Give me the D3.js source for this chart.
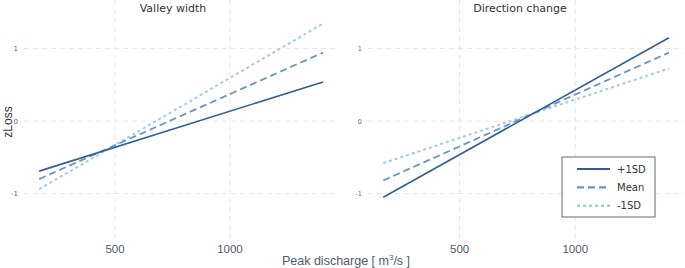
<!DOCTYPE html>
<html>
<head>
<meta charset="utf-8">
<script src="https://cdn.jsdelivr.net/npm/d3@7"></script>
<style>
	body { margin: 0; background: #fff; }
	svg { display: block; font-family: "DejaVu Sans", sans-serif; }
	.sans { font-family: "Liberation Sans", Arial, sans-serif; }
</style>
</head>
<body>
<div id="chart"></div>
<script>
// peak discharge at the two ends of each fitted line
var discharge = [170, 1405];
var panels = ["Valley width", "Direction change"];
var series = ["+1SD", "Mean", "-1SD"];
// zLoss at start / end for each series, per panel
var valleyWidth = [[-0.69, 0.54], [-0.80, 0.945], [-0.94, 1.345]];
var directionChange = [[-1.05, 1.15], [-0.82, 0.945], [-0.58, 0.725]];
var xTicks = [500, 1000];
var yTicks = [-1, 0, 1];

var W = 685, H = 268,
	panelData = [valleyWidth, directionChange],
	panelX = [[24, 338], [368, 684]],
	styles = [
		{ color: "#2e6096", width: 1.6, dash: null },
		{ color: "#6b94c4", width: 1.8, dash: "7,4" },
		{ color: "#9dcbef", width: 2, dash: "3,3" }
	],
	gridColor = "#e6e6e6",
	axisColor = "#4d5a70";

var svg = d3.select("#chart").append("svg")
	.attr("width", W)
	.attr("height", H);

var y = d3.scaleLinear().domain([1.67, -1.64]).range([0, 240]);

panels.forEach(function (name, p) {
	var x = d3.scaleLinear().domain([104, 1470]).range(panelX[p]);
	var g = svg.append("g");

	// grid
	g.selectAll("line.hg")
		.data(yTicks)
		.join("line")
		.attr("class", "hg")
		.attr("x1", x.range()[0]).attr("x2", x.range()[1])
		.attr("y1", function (d) { return y(d); })
		.attr("y2", function (d) { return y(d); })
		.attr("stroke", gridColor)
		.attr("stroke-dasharray", "5,4");

	g.selectAll("line.vg")
		.data(xTicks)
		.join("line")
		.attr("class", "vg")
		.attr("x1", function (d) { return x(d); })
		.attr("x2", function (d) { return x(d); })
		.attr("y1", 0).attr("y2", 243)
		.attr("stroke", gridColor)
		.attr("stroke-dasharray", "5,4");

	// y tick labels
	g.selectAll("text.yt")
		.data(yTicks)
		.join("text")
		.attr("class", "yt")
		.attr("x", x.range()[0] - 6)
		.attr("y", function (d) { return y(d) + 2.5; })
		.attr("text-anchor", "end")
		.attr("font-size", p == 0 ? 7 : 6.5)
		.attr("fill", "#666")
		.text(function (d) { return d; });

	// x tick labels
	g.selectAll("text.xt")
		.data(xTicks)
		.join("text")
		.attr("class", "xt sans")
		.attr("x", function (d) { return x(d); })
		.attr("y", 253)
		.attr("text-anchor", "middle")
		.attr("font-size", 11.5)
		.attr("fill", axisColor)
		.text(function (d) { return d; });

	// title
	g.append("text")
		.attr("x", (x.range()[0] + x.range()[1]) / 2 + (p == 0 ? -8 : -6))
		.attr("y", 12)
		.attr("text-anchor", "middle")
		.attr("font-size", 11)
		.attr("fill", "#333")
		.text(name);

	var line = d3.line()
		.x(function (d, i) { return x(discharge[i]); })
		.y(function (d) { return y(d); });

	// draw lightest first so the solid line sits on top
	[2, 1, 0].forEach(function (s) {
		g.append("path")
			.datum(panelData[p][s])
			.attr("d", line)
			.attr("fill", "none")
			.attr("stroke", styles[s].color)
			.attr("stroke-width", styles[s].width)
			.attr("stroke-dasharray", styles[s].dash);
	});
});

// axis titles
svg.append("text")
	.attr("class", "sans")
	.attr("transform", "translate(12,122) rotate(-90)")
	.attr("text-anchor", "middle")
	.attr("font-size", 12)
	.attr("fill", "#333")
	.text("zLoss");

var xt = svg.append("text")
	.attr("class", "sans")
	.attr("x", 346)
	.attr("y", 265)
	.attr("text-anchor", "middle")
	.attr("font-size", 12.5)
	.attr("fill", axisColor);
xt.append("tspan").text("Peak discharge [ m");
xt.append("tspan").attr("font-size", 8).attr("dy", -5).text("3");
xt.append("tspan").attr("dy", 5).text("/s ]");

// legend
var lg = svg.append("g").attr("transform", "translate(562,157)");
lg.append("rect")
	.attr("width", 93).attr("height", 60)
	.attr("fill", "#fff")
	.attr("stroke", "#666")
	.attr("stroke-width", 1);

var item = lg.selectAll("g.item")
	.data(series)
	.join("g")
	.attr("class", "item")
	.attr("transform", function (d, i) { return "translate(0," + (12 + i * 18.4) + ")"; });

item.append("line")
	.attr("x1", 15).attr("x2", 48)
	.attr("stroke", function (d, i) { return styles[i].color; })
	.attr("stroke-width", function (d, i) { return styles[i].width + 0.4; })
	.attr("stroke-dasharray", function (d, i) { return styles[i].dash; });

item.append("text")
	.attr("x", 55)
	.attr("y", 3.5)
	.attr("font-size", 10)
	.attr("fill", "#333")
	.text(function (d) { return d; });
</script>
</body>
</html>
